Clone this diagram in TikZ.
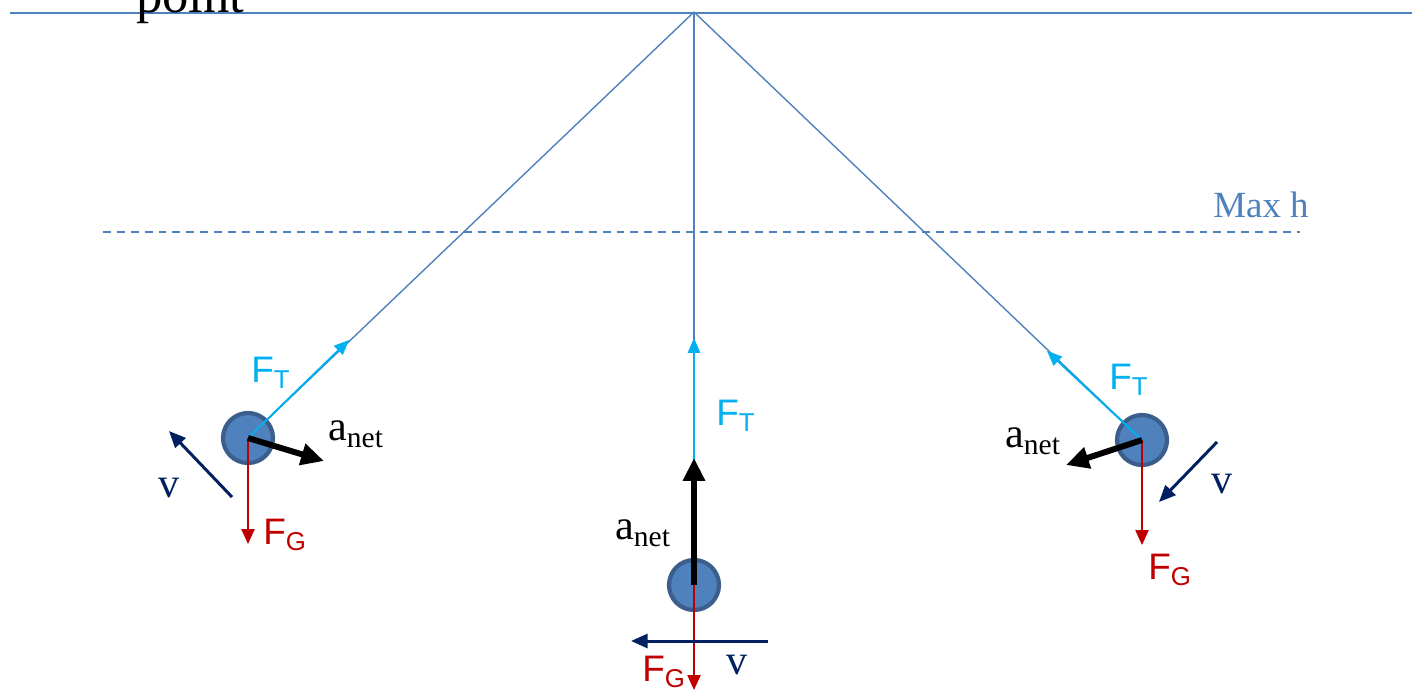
\documentclass[tikz,border=0pt]{standalone}
\usepackage{fontspec}
\setmainfont{Liberation Serif}
\newfontfamily\arialfont{Liberation Sans}
\usetikzlibrary{arrows.meta}
\definecolor{rope}{HTML}{4F81BD}
\definecolor{bobedge}{HTML}{3B5E8C}
\definecolor{ftcol}{HTML}{00B0F0}
\definecolor{fgcol}{HTML}{C00000}
\definecolor{vcol}{HTML}{002060}

\tikzset{
  bob/.style={circle,fill=rope,draw=bobedge,line width=2.4pt,minimum size=1cm,inner sep=0pt},
  ftarrow/.style={ftcol,line width=1.1pt,-{Triangle[length=8.5pt,width=7pt]}},
  fgarrow/.style={fgcol,line width=0.9pt,-{Triangle[length=8.5pt,width=7.5pt]}},
  velarrow/.style={vcol,line width=1.7pt,-{Triangle[length=9.5pt,width=8pt]}},
  accarrow/.style={black,line width=3.4pt,-{Triangle[length=13pt,width=12pt]}},
  flabel/.style={font=\arialfont\fontsize{21}{24}\selectfont},
  slabel/.style={font=\fontsize{24}{28}\selectfont},
}

\begin{document}
\begin{tikzpicture}[x=0.02cm,y=-0.02cm]
  \useasboundingbox (0,0) rectangle (1412,690);
  % support and max height
  \coordinate (pivot) at (694,12);
  \coordinate (ceilL) at (10,13);
  \coordinate (ceilR) at (1412,13);
  \coordinate (dashL) at (103,232);
  \coordinate (dashR) at (1300,232);
  \draw[rope,line width=1.1pt] (ceilL) -- (ceilR);
  \node[anchor=base west,font=\fontsize{30}{34}\selectfont] (pointtxt) at (130,12) {point};
  \draw[rope,line width=0.8pt,dash pattern=on 4.5pt off 3.4pt] (dashL) -- (dashR);
  \node[rope,font=\fontsize{21}{24}\selectfont] (maxh) at (1261,205) {Max h};
  % bobs and strings
  \node[bob] (bobL) at (248,438) {};
  \node[bob] (bobC) at (694,585) {};
  \node[bob] (bobR) at (1142,440) {};
  \draw[rope,line width=0.8pt] (pivot) -- (bobL);
  \draw[rope,line width=0.8pt] (pivot) -- (bobC);
  \draw[rope,line width=0.8pt] (pivot) -- (bobR);
  % left bob
  \coordinate (ftL) at (349,340);
  \coordinate (acL) at (324,461);
  \coordinate (vLs) at (232,497);
  \coordinate (vLe) at (169,431);
  \coordinate (fgL) at (248,544);
  \draw[ftarrow] (bobL.center) -- (ftL);
  \draw[fgarrow] (bobL.center) -- (fgL);
  \draw[accarrow] (bobL.center) -- (acL);
  \draw[velarrow] (vLs) -- (vLe);
  \node[flabel,ftcol] (ftLtxt) at (271,373) {F\textsubscript{T}};
  \node[flabel,fgcol] (fgLtxt) at (285,535) {F\textsubscript{G}};
  \node[slabel] (acLtxt) at (356,434) {a\textsubscript{net}};
  \node[slabel,vcol] (vLtxt) at (169,488) {v};
  % bottom bob
  \coordinate (ftC) at (694,338);
  \coordinate (acC) at (694,458);
  \coordinate (fgC) at (694,690);
  \coordinate (vCs) at (768,641);
  \coordinate (vCe) at (631,641);
  \draw[ftarrow] (bobC.center) -- (ftC);
  \draw[fgarrow] (bobC.center) -- (fgC);
  \draw[accarrow] (bobC.center) -- (acC);
  \draw[velarrow] (vCs) -- (vCe);
  \node[flabel,ftcol] (ftCtxt) at (736,416) {F\textsubscript{T}};
  \node[flabel,fgcol] (fgCtxt) at (664,672) {F\textsubscript{G}};
  \node[slabel] (acCtxt) at (643,533) {a\textsubscript{net}};
  \node[slabel,vcol] (vCtxt) at (737,665) {v};
  % right bob
  \coordinate (ftR) at (1047,351);
  \coordinate (acR) at (1066,465);
  \coordinate (vRs) at (1217,442);
  \coordinate (vRe) at (1159,502);
  \coordinate (fgR) at (1142,545);
  \draw[ftarrow] (bobR.center) -- (ftR);
  \draw[fgarrow] (bobR.center) -- (fgR);
  \draw[accarrow] (bobR.center) -- (acR);
  \draw[velarrow] (vRs) -- (vRe);
  \node[flabel,ftcol] (ftRtxt) at (1129,380) {F\textsubscript{T}};
  \node[flabel,fgcol] (fgRtxt) at (1170,570) {F\textsubscript{G}};
  \node[slabel] (acRtxt) at (1033,441) {a\textsubscript{net}};
  \node[slabel,vcol] (vRtxt) at (1222,484) {v};
\end{tikzpicture}
\end{document}
